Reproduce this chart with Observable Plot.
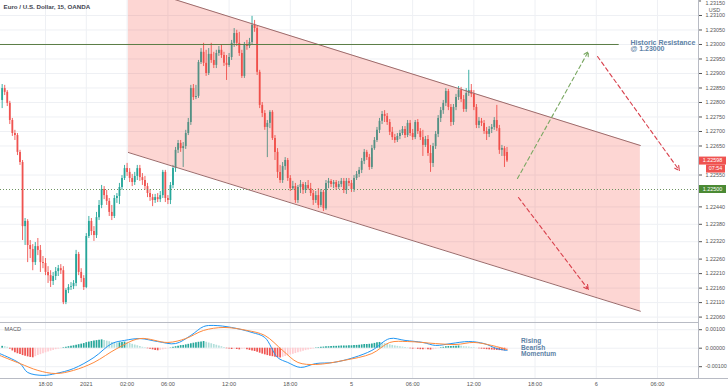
<!DOCTYPE html>
<html><head><meta charset="utf-8">
<script src="https://cdn.jsdelivr.net/npm/d3@7"></script>
<script src="https://cdn.jsdelivr.net/npm/@observablehq/plot@0.6"></script>
<style>
body{margin:0;background:#fff;font-family:"Liberation Sans",Arial,sans-serif}
#wrap{position:relative;width:728px;height:391px;overflow:hidden;background:#fff}
#wrap svg{display:block}
</style></head><body><div id="wrap"></div>
<script>
// ---- DATA (15-min EUR/USD bars; prices given in points above 1.22000, 1 point = 0.00001) ----
const firstBar = -17; // bar index of first visible candle (index 0 = 31 Dec 18:00)
const openP = [807,848,835,797,738,693,686,628,593,372,
390,307,293,248,303,290,248,245,214,203,
183,200,217,227,220,110,152,162,165,176,
276,214,193,162,338,390,355,341,403,445,
500,479,459,421,407,469,476,507,538,572,
559,538,524,545,572,541,531,510,486,472,
462,472,465,479,559,469,462,514,572,635,
659,641,648,693,731,848,817,821,938,973,
935,900,966,945,928,969,980,962,935,928,
955,1004,1038,1004,969,890,1000,993,1007,1066,
1055,904,790,762,714,728,766,676,628,559,
531,579,600,538,503,510,462,507,517,497,
514,503,486,462,479,445,490,434,521,528,
517,524,507,517,528,497,528,521,500,538,
552,566,597,628,610,576,641,669,704,735,
759,752,731,697,679,669,683,693,707,686,
728,693,679,731,700,679,652,672,624,590,
648,690,745,772,797,838,783,731,783,817,
841,810,776,831,841,828,783,721,735,728,
700,690,707,714,738,710,635,641,628];
const highP = [862,859,841,804,745,704,693,635,600,400,
396,324,310,317,331,307,269,262,234,220,
214,231,238,241,234,158,172,179,186,290,
283,227,203,348,407,400,372,421,462,514,
510,497,469,445,479,486,521,548,583,590,
572,552,559,583,583,555,545,521,500,483,
483,486,493,566,566,479,524,583,645,669,
669,662,704,745,859,862,859,945,986,1004,
980,986,1004,973,980,993,997,973,962,969,
1014,1055,1049,1042,980,1007,1014,1021,1097,1083,
1062,911,800,772,738,772,772,686,641,583,
593,610,607,548,528,521,514,531,524,524,
531,521,497,493,503,500,497,531,538,534,
531,531,528,538,538,538,538,531,548,562,
576,607,638,635,621,652,679,714,745,769,
772,762,741,714,690,693,704,717,717,738,
738,707,738,741,710,704,683,686,652,659,
700,755,783,807,848,845,793,793,828,855,
852,824,848,911,862,841,793,748,745,738,
714,717,724,748,790,721,652,648,645];
const lowP = [779,824,786,724,683,669,617,583,324,307,
248,262,220,238,272,214,227,203,176,162,
169,186,200,207,103,103,141,152,155,165,
203,179,152,158,331,341,321,331,393,434,
465,445,407,393,400,452,448,497,531,545,
524,510,514,531,528,514,497,472,459,441,
452,455,455,469,455,448,448,503,559,624,
628,576,638,686,721,807,810,814,931,924,
890,893,935,917,917,959,952,924,876,921,
945,990,993,959,883,883,980,986,1000,1042,
893,779,748,704,610,710,669,600,538,521,
521,566,528,493,497,452,452,486,483,486,
497,476,445,452,434,438,424,428,503,507,
503,497,500,507,486,483,510,490,490,531,
541,555,586,600,566,569,635,662,693,724,
731,721,686,669,659,662,672,686,676,679,
683,669,672,690,669,614,645,614,559,576,
638,679,731,759,786,772,717,721,772,807,
800,766,766,821,817,772,710,710,717,690,
669,679,693,704,700,621,614,576,593];
const closeP = [848,835,797,738,693,686,628,593,372,390,
307,293,248,303,290,248,245,214,203,183,
200,217,227,220,110,152,162,165,176,276,
214,193,162,338,390,355,341,403,445,500,
479,459,421,407,469,476,507,538,572,559,
538,524,545,572,541,531,510,486,472,462,
472,465,479,559,469,462,514,572,635,659,
641,648,693,731,848,817,821,938,973,935,
900,966,945,928,969,980,962,935,928,955,
1004,1038,1004,969,890,1000,993,1007,1066,1055,
904,790,762,714,728,766,676,628,559,531,
579,600,538,503,510,462,507,517,497,514,
503,486,462,479,445,490,434,521,528,517,
524,507,517,528,497,528,521,500,538,552,
566,597,628,610,576,641,669,704,735,759,
752,731,697,679,669,683,693,707,686,728,
693,679,731,700,679,652,672,624,590,648,
690,745,772,797,838,783,731,783,817,841,
810,776,831,841,828,783,721,735,728,700,
690,707,714,738,710,635,641,614,598];

// MACD (values in 1e-5)
const macdHist = [10,8,5,-5,-15,-25,-30,-34,-40,-44,
-47,-50,-52,-46,-40,-35,-30,-25,-20,-16,
-12,-8,-5,-2,3,5,8,10,13,16,
19,22,25,30,33,36,39,41,43,45,
42,38,35,31,28,27,29,31,33,30,
26,21,17,13,9,5,2,-3,-6,-9,
-12,-14,-12,-9,-6,-3,2,5,8,11,
14,15,18,21,24,27,30,32,34,36,
32,28,24,20,16,12,8,4,-3,-5,
-7,-5,-7,-9,-6,-4,-8,-12,-15,-18,
-22,-27,-32,-36,-40,-43,-46,-49,-51,-53,
-49,-45,-41,-37,-33,-29,-25,-21,-17,-13,
-10,-7,-4,2,3,5,6,8,8,9,
10,10,11,12,12,12,13,13,14,15,
16,18,20,20,21,23,26,29,31,28,
25,22,18,15,12,10,8,6,4,2,
-3,-5,-5,-6,-8,-9,-8,-9,-10,-8,
-5,-2,3,5,8,9,9,10,11,12,
10,8,7,6,4,2,1,-3,-5,-6,
-8,-9,-10,-11,-12,-13,-14,-15,-15];
const macdBars = [-18,-10,-7,-1,4,11,19,26,31,37,44,51,57,62,66,73,81,86,91,95,100,106,113,121,128,135,141,148,153,159,166,172,177,181];
const macdVals = [-29,-83,-131,-147,-137,-110,-50,25,42,52,36,25,69,117,123,112,85,58,-50,-77,-104,-83,-77,-50,-12,52,42,31,15,25,36,25,-2,-12];
const signalBars = [-18,-10,-3,4,11,19,28,37,48,55,62,70,79,86,93,99,106,117,128,135,142,153,161,168,175,181];
const signalVals = [-39,-83,-120,-137,-120,-77,-2,52,31,52,96,112,96,69,-12,-77,-88,-66,-29,31,36,25,20,31,15,-7];

// channel (bar index, price)
const channelBars = [32.5, 233.3];
const channelTop = [1.232052, 1.226517];
const channelBottom = [1.226276, 1.220803];
const resistancePrice = 1.23000;
const resistanceEndBar = 225;
const supportPrice = 1.22500;
const lastPrice = 1.22598;
// projected paths (from bar/price to bar/price)
const arrowFromBar = [185.1, 216.5, 185.5];
const arrowFromPrice = [1.225379, 1.229586, 1.224724];
const arrowToBar = [212.9, 248.6, 212.9];
const arrowToPrice = [1.229759, 1.225655, 1.221552];
const arrowKind = ["up", "down", "down"];

const topTick = 1.23150;
const priceTicks = [1.23100,1.23050,1.23000,1.22950,1.22900,1.22850,1.22800,1.22750,1.22700,1.22650,1.22550,1.22440,1.22380,1.22320,1.22260,1.22210,1.22160,1.22110,1.22060];
const macdTicks = [0.001, 0, -0.001];
const timeTickBars = [0,16,32,48,72,96,120,144,168,192,216,240];
const timeTickLabels = ["18:00","2021","02:00","06:00","12:00","18:00","5","06:00","12:00","18:00","6","06:00"];

// ---- BUILD ----
const toPrice = v => 1.22 + v / 1e5;
const G = "#26a69a", R = "#ef5350";
const bars = closeP.map((c, k) => ({i: firstBar + k, o: toPrice(openP[k]), h: toPrice(highP[k]), l: toPrice(lowP[k]), c: toPrice(c)}));
const hist = macdHist.map((v, k) => {
  const prev = k > 0 ? macdHist[k-1] : v;
  const color = v >= 0 ? (v >= prev ? "#26a69a" : "#b2dfdb") : (v < prev ? "#ef5350" : "#ffcdd2");
  return {i: firstBar + k, v: v / 1e5, color};
});
const macdLine = macdBars.map((b, k) => ({i: b, v: macdVals[k] / 1e5}));
const signalLine = signalBars.map((b, k) => ({i: b, v: signalVals[k] / 1e5}));
const channel = channelBars.map((b, k) => ({i: b, top: channelTop[k], bot: channelBottom[k]}));
const arrows = arrowFromBar.map((b, k) => ({x1: b, y1: arrowFromPrice[k], x2: arrowToBar[k], y2: arrowToPrice[k], kind: arrowKind[k]}));

const xDomain = [-17.65, 256.1];
const font = "Liberation Sans, Arial, sans-serif";
const gridC = "#eef0f4";

const main = Plot.plot({
  width: 728, height: 322,
  marginLeft: 0, marginRight: 30, marginTop: 0, marginBottom: 0,
  x: {domain: xDomain, axis: null},
  y: {domain: [1.220414, 1.231517], axis: null},
  style: {fontFamily: font, background: "transparent", overflow: "visible"},
  marks: [
    Plot.ruleY(priceTicks, {stroke: gridC, strokeWidth: 1}),
    Plot.ruleX(timeTickBars, {stroke: gridC, strokeWidth: 1}),
    Plot.ruleX(bars, {x: "i", y1: "l", y2: "h", stroke: d => d.c >= d.o ? G : R, strokeWidth: 0.9}),
    Plot.ruleX(bars, {x: "i", y1: "o", y2: d => Math.abs(d.c - d.o) < 0.00001 ? d.o + 0.00001 : d.c, stroke: d => d.c >= d.o ? G : R, strokeWidth: 1.8}),
    Plot.areaY(channel, {x: "i", y1: "bot", y2: "top", fill: "#f44336", fillOpacity: 0.22, clip: true}),
    Plot.line(channel, {x: "i", y: "top", stroke: "#9c6b6b", strokeWidth: 1, clip: true}),
    Plot.line(channel, {x: "i", y: "bot", stroke: "#9c6b6b", strokeWidth: 1, clip: true}),
    Plot.ruleY([resistancePrice], {x1: xDomain[0], x2: resistanceEndBar, stroke: "#5b7d45", strokeWidth: 1}),
    Plot.ruleY([supportPrice], {x1: xDomain[0], x2: xDomain[1], stroke: "#6f9462", strokeWidth: 1, strokeDasharray: "1,2"}),
    Plot.arrow(arrows, {x1: "x1", y1: "y1", x2: "x2", y2: "y2", stroke: d => d.kind === "up" ? "#7aa862" : "#d8404c", strokeWidth: 1.1, strokeDasharray: "4,3", headLength: 7, headAngle: 55}),
    Plot.text(["Historic Resistance\n@ 1.23000"], {x: 229.4, y: 1.22996, text: d => d, textAnchor: "start", lineAnchor: "middle", fontSize: 7, fontWeight: 600, fill: "#5d82a6", lineHeight: 0.85}),
    Plot.text(["Euro / U.S. Dollar, 15, OANDA"], {frameAnchor: "top-left", dx: 3, dy: 4, text: d => d, fontSize: 6.2, fontWeight: 600, fill: "#434651"}),
    Plot.ruleY([topTick], {x1: xDomain[1], x2: 257.3, stroke: "#555"}),
    Plot.text([topTick], {frameAnchor: "top-right", dx: 7, dy: 0.5, lineAnchor: "top", textAnchor: "start", text: d => d.toFixed(5), fontSize: 5.4, fill: "#555"}),
    Plot.text(["USD"], {frameAnchor: "top-right", dx: 16, dy: 8, text: d => d, fontSize: 5.4, fill: "#555", textAnchor: "middle"}),
    Plot.axisY(priceTicks, {anchor: "right", tickSize: 3, tickPadding: 4, tickFormat: d => d.toFixed(5), fontSize: 5.4, color: "#555", label: null}),
    Plot.ruleX([xDomain[1]], {stroke: "#b8bbc4", strokeWidth: 1})
  ]
});

const macdPlot = Plot.plot({
  width: 728, height: 69,
  marginLeft: 0, marginRight: 30, marginTop: 0, marginBottom: 13,
  x: {domain: xDomain, axis: null},
  y: {domain: [-0.001638, 0.001389], axis: null},
  style: {fontFamily: font, background: "transparent", overflow: "visible"},
  marks: [
    Plot.ruleY(macdTicks, {stroke: gridC}),
    Plot.ruleX(timeTickBars, {stroke: gridC}),
    Plot.ruleX(hist, {x: "i", y1: 0, y2: "v", stroke: "color", strokeWidth: 1.7}),
    Plot.line(macdLine, {x: "i", y: "v", stroke: "#2196f3", strokeWidth: 1, curve: "catmull-rom", clip: true}),
    Plot.line(signalLine, {x: "i", y: "v", stroke: "#ff8a3d", strokeWidth: 1, curve: "catmull-rom", clip: true}),
    Plot.text(["MACD"], {frameAnchor: "top-left", dx: 4, dy: 5, text: d => d, fontSize: 5.6, fill: "#555"}),
    Plot.text(["Rising\nBearish\nMomentum"], {x: 186.5, y: 0.00003, text: d => d, textAnchor: "start", lineAnchor: "middle", fontSize: 6.6, fontWeight: 600, fill: "#5d82a6", lineHeight: 0.95}),
    Plot.axisY(macdTicks, {anchor: "right", tickSize: 3, tickPadding: 4, tickFormat: d => d.toFixed(5), fontSize: 5.4, color: "#555", label: null}),
    Plot.axisX(timeTickBars, {anchor: "bottom", tickSize: 0, tickPadding: 4, tickFormat: d => timeTickLabels[timeTickBars.indexOf(d)], fontSize: 5.6, color: "#555", label: null}),
    Plot.ruleY([0.001389], {stroke: "#b8bbc4"}),
    Plot.ruleY([-0.001638], {x1: xDomain[0], x2: 268, stroke: "#b8bbc4"}),
    Plot.ruleX([xDomain[1]], {stroke: "#b8bbc4", strokeWidth: 1})
  ]
});

// price tags on the right axis, positioned through the plot's own y scale
function tag(svg, yPix, text, fill, x0, w) {
  const g = d3.select(svg).append("g");
  g.append("rect").attr("x", x0).attr("y", yPix - 4).attr("width", w).attr("height", 8).attr("fill", fill);
  g.append("text").attr("x", x0 + w / 2).attr("y", yPix).attr("dy", "0.35em").attr("text-anchor", "middle")
    .attr("fill", "#fff").attr("font-size", 5.4).attr("font-family", font).text(text);
}
const ys = main.scale("y");
tag(main, ys.apply(lastPrice), lastPrice.toFixed(5), "#ef5350", 699, 27);
tag(main, ys.apply(lastPrice) + 8, "07:54", "#ef5350", 706, 19);
tag(main, ys.apply(supportPrice), supportPrice.toFixed(5), "#4b8a34", 699, 27);

const wrap = document.getElementById("wrap");
wrap.appendChild(main);
wrap.appendChild(macdPlot);
</script></body></html>
